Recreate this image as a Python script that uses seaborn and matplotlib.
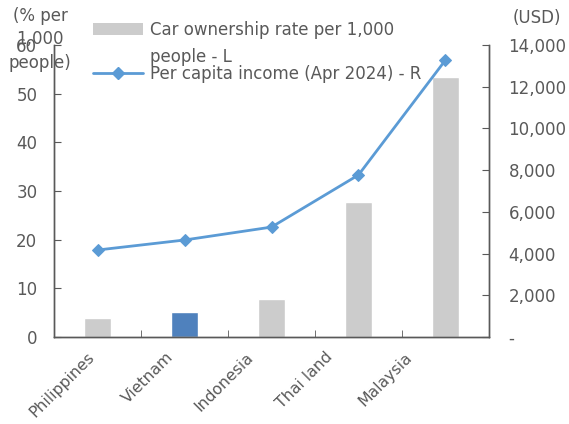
import matplotlib
matplotlib.use("Agg")
import matplotlib.pyplot as plt
import matplotlib.transforms as mtransforms
import seaborn as sns
import pandas as pd
from matplotlib.ticker import FuncFormatter, FixedLocator
from matplotlib.patches import Patch
from matplotlib.lines import Line2D

countries = ["Philippines", "Vietnam", "Indonesia", "Thai land", "Malaysia"]
car_ownership = [3.9, 5.1, 7.8, 27.7, 53.4]
income_usd = [4170, 4650, 5270, 7770, 13280]
bar_colors = ["#CCCCCC", "#4F81BD", "#CCCCCC", "#CCCCCC", "#CCCCCC"]

label_bar = ["Car ownership rate per 1,000", "people - L"]
label_line = "Per capita income (Apr 2024) - R"

TEXT = "#595959"
AXIS = "#595959"
LINE = "#5B9BD5"
FS = 12

sns.set_style("white")
plt.rcParams["font.family"] = ["DejaVu Sans"]
plt.rcParams["font.size"] = FS

df = pd.DataFrame({"country": countries, "cars": car_ownership, "income": income_usd})

fig = plt.figure(figsize=(5.69, 4.24), dpi=100)
ax = fig.add_axes([54 / 569, 1 - 337 / 424, 435 / 569, 292 / 424])

sns.barplot(data=df, x="country", y="cars", hue="country", palette=bar_colors,
            width=0.32, legend=False, ax=ax, saturation=1)
ax.set_ylim(0, 60)
ax.set_xlim(-0.5, 4.5)
ax.set_yticks(range(0, 61, 10))
ax.set_xlabel("")
ax.set_ylabel("")

ax2 = ax.twinx()
sns.lineplot(x=list(range(len(countries))), y=income_usd, sort=False, ax=ax2,
             color=LINE, linewidth=2, marker="D", markersize=6,
             markeredgecolor=LINE)
ax2.set_ylim(0, 14000)
ax2.set_yticks(range(0, 14001, 2000))
ax2.yaxis.set_major_formatter(FuncFormatter(lambda v, p: "-" if v == 0 else f"{int(v):,}"))
ax2.set_xlim(-0.5, 4.5)

for a in (ax, ax2):
    for s in a.spines.values():
        s.set_color(AXIS)
        s.set_linewidth(1.0)
    a.spines["top"].set_visible(False)
    a.tick_params(colors=TEXT, labelcolor=TEXT, labelsize=FS)

ax.tick_params(axis="y", direction="in", length=5, color=AXIS, pad=12, left=True)
ax2.tick_params(axis="y", direction="in", length=5, color=AXIS, pad=14, right=True)

# category separators on the x axis
ax.set_xticks(range(len(countries)))
ax.set_xticklabels(countries, rotation=45, ha="right", rotation_mode="anchor",
                   fontsize=11.3)
ax.tick_params(axis="x", which="major", length=0, pad=9)
ax.xaxis.set_minor_locator(FixedLocator([-0.5, 0.5, 1.5, 2.5, 3.5, 4.5]))
ax.tick_params(axis="x", which="minor", direction="in", length=5, color=AXIS, bottom=True)

# nudge the rotated category labels slightly to the left
for i, lbl in enumerate(ax.get_xticklabels()):
    dx = -(11 + 7.5 * i) / 100
    lbl.set_transform(lbl.get_transform()
                      + mtransforms.ScaledTranslation(dx, 0, fig.dpi_scale_trans))

handles = [Patch(facecolor="#CCCCCC", edgecolor="none"),
           Line2D([0], [0], color=LINE, linewidth=2, marker="D", markersize=6)]
leg = fig.legend(handles, [label_bar[0], label_line], loc="upper left",
                 bbox_to_anchor=(93 / 569, 1 - 21 / 424), frameon=False,
                 handlelength=3.0, handleheight=0.7, handletextpad=0.4,
                 labelspacing=1.55, borderpad=0, borderaxespad=0, fontsize=FS)
for t in leg.get_texts():
    t.set_color(TEXT)

# second line of the bar entry's label, aligned under the first line
fig.canvas.draw()
first = leg.get_texts()[0].get_window_extent()
x0, y0 = fig.transFigure.inverted().transform((first.x0, first.y0))
fig.text(x0, y0 - 27 / 424, label_bar[1], ha="left", va="bottom",
         color=TEXT, fontsize=FS)

fig.text(40 / 569, 1 - 7 / 424, "(% per\n1,000\npeople)", ha="center", va="top",
         color=TEXT, fontsize=FS, linespacing=1.38)
fig.text(537 / 569, 1 - 18 / 424, "(USD)", ha="center", va="center",
         color=TEXT, fontsize=FS)

fig.savefig("out.png", dpi=100)
